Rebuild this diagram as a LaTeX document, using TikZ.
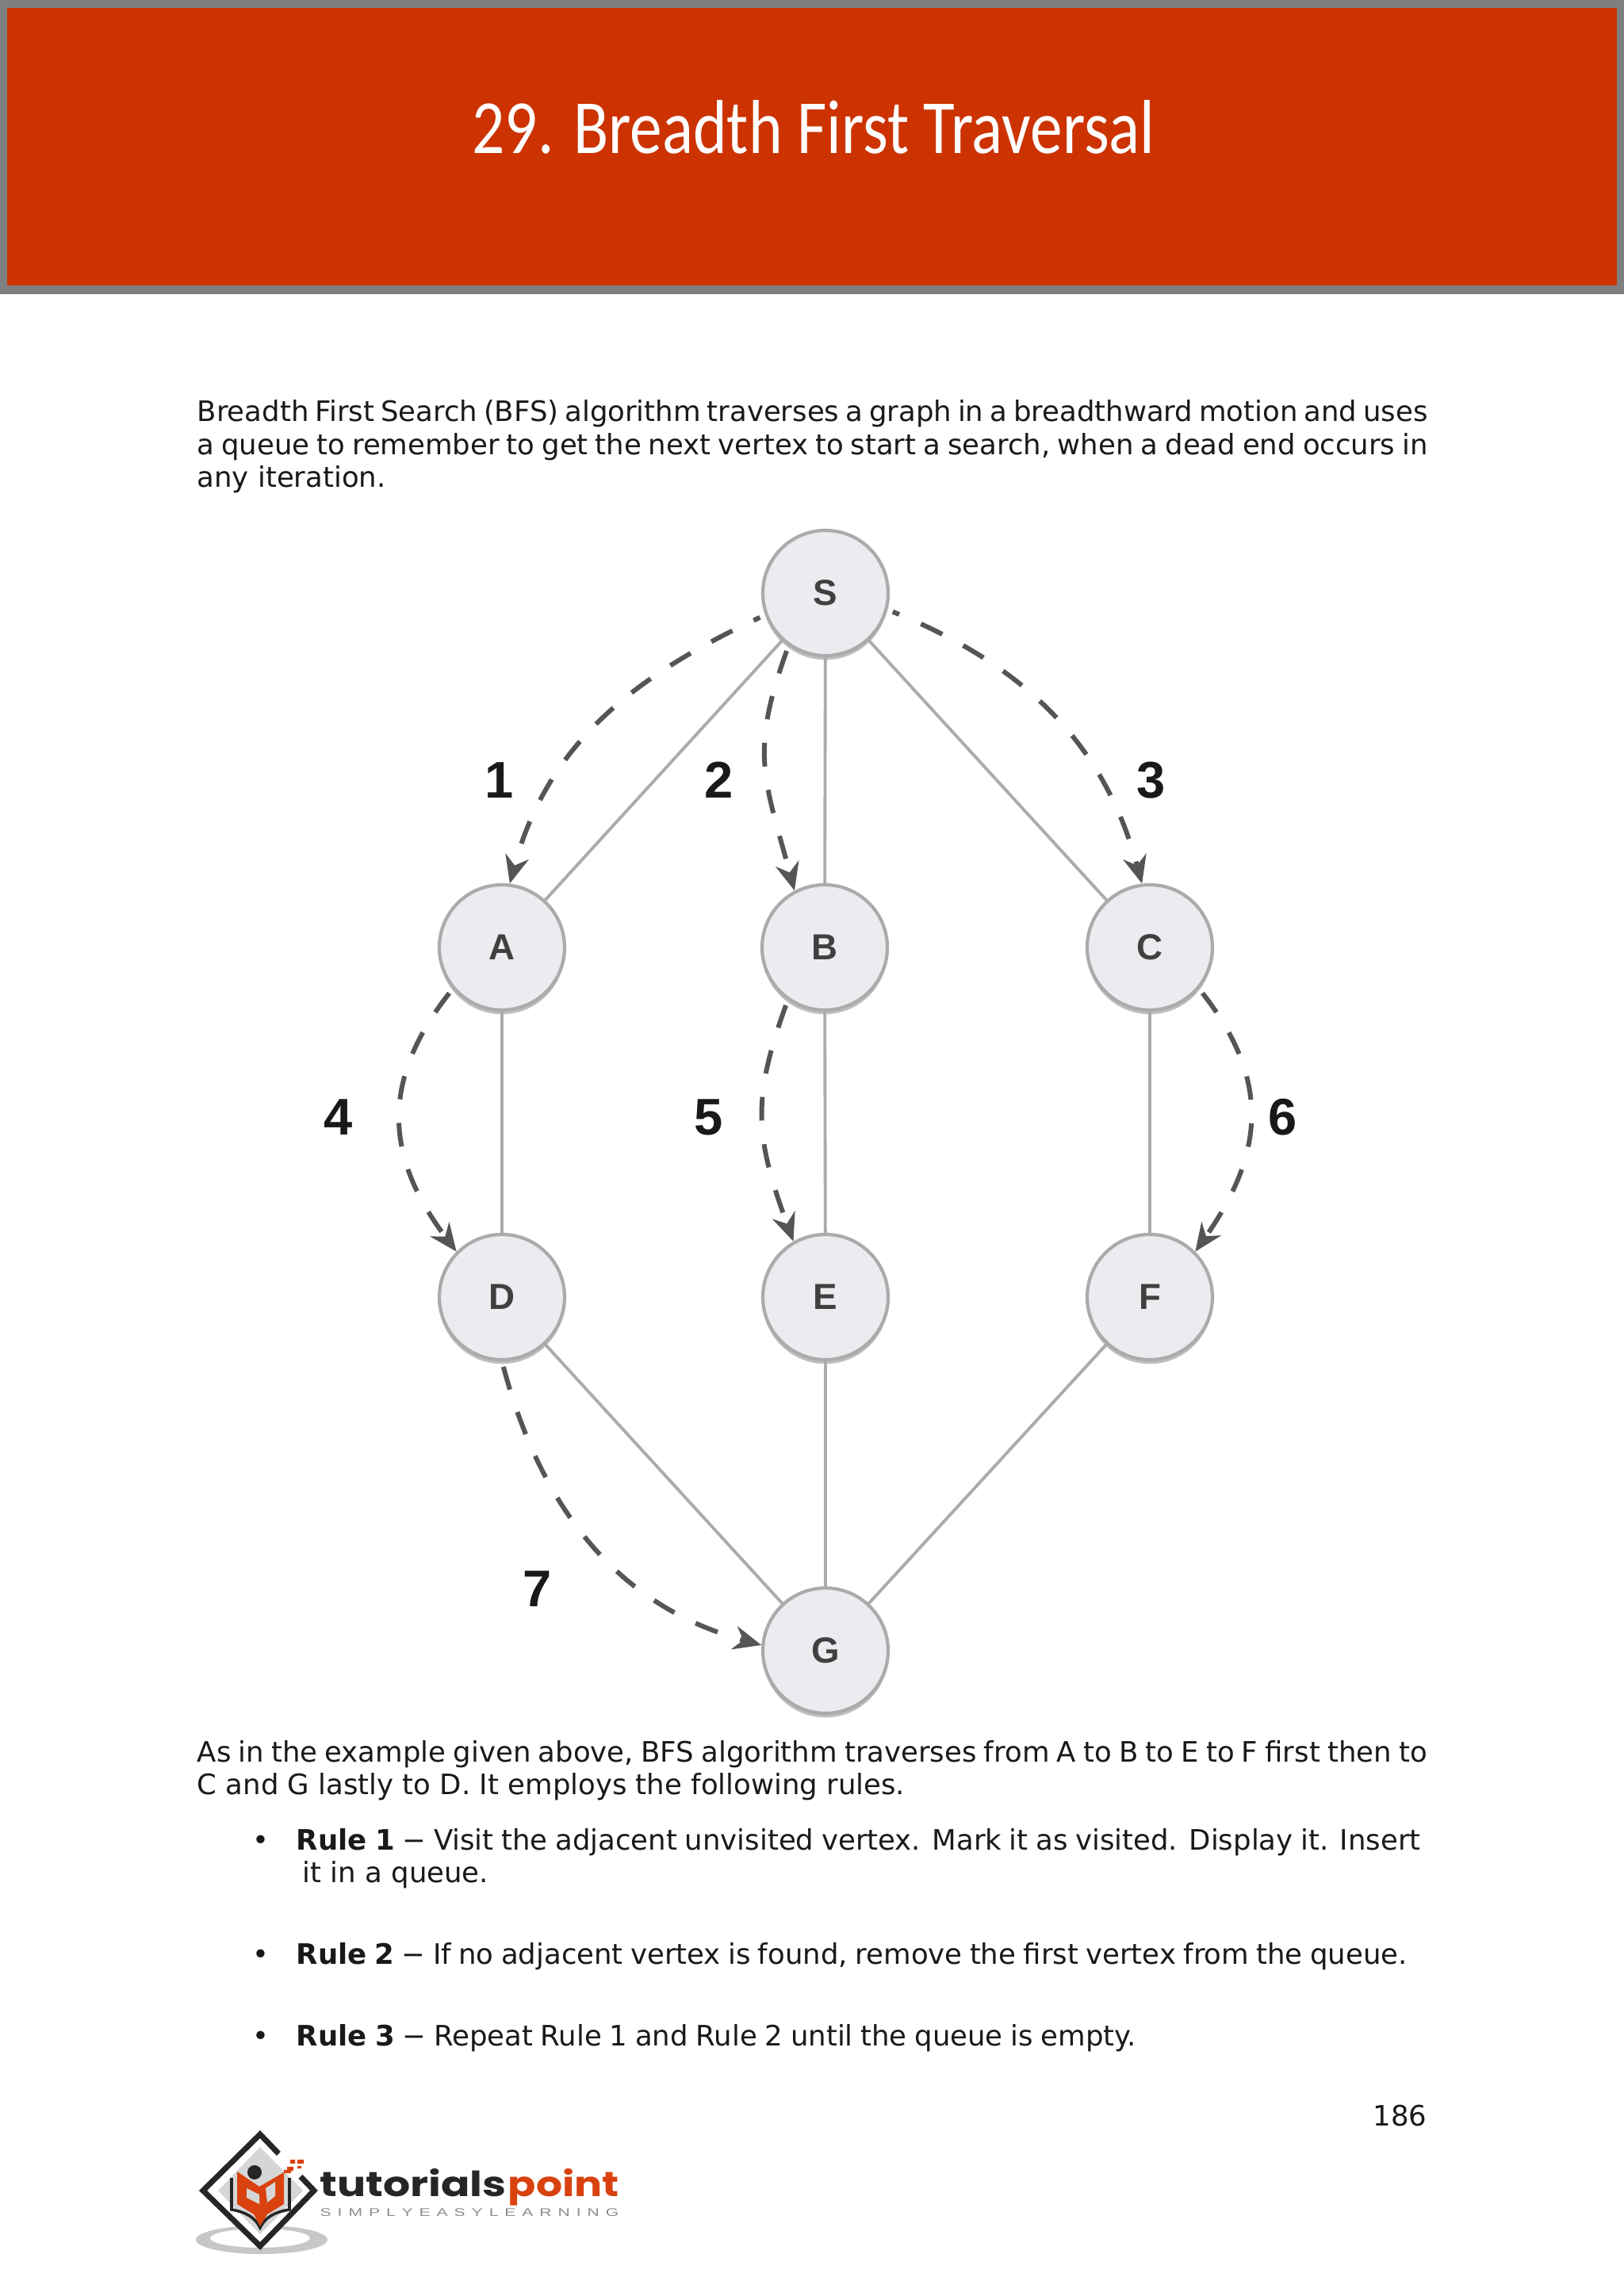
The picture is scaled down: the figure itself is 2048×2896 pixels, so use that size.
\documentclass[tikz,border=0pt]{standalone}
\usepackage{fontspec}
\usepackage[dvipsnames]{xcolor}
\usetikzlibrary{arrows.meta,shadows}
\setmainfont{DejaVu Sans}
\newfontfamily\titlefont{Carlito}
\newfontfamily\graphfont{Liberation Sans}
\newfontfamily\logofont{Poppins}
\definecolor{headred}{HTML}{CC3300}
\definecolor{headgray}{HTML}{7F7F7F}
\definecolor{edgegray}{HTML}{ABABAB}
\definecolor{traversegray}{HTML}{555555}
\definecolor{vertexfill}{HTML}{ECECF0}
\definecolor{logored}{HTML}{D9420F}
\newlength{\pxunit}
\setlength{\pxunit}{0.01cm}
\newcommand{\fitline}[2]{\makebox[#1\pxunit][s]{#2}}

\begin{document}
\begin{tikzpicture}[x=0.01cm,y=0.01cm,
    bodytext/.style={anchor=base west,inner sep=0pt,font=\fontsize{10.1pt}{12pt}\selectfont,text=black!90},
    vertex/.style={circle,draw=edgegray,line width=1.2pt,fill=vertexfill,minimum size=158\pxunit,inner sep=0pt,
      font=\graphfont\bfseries\fontsize{13pt}{14pt}\selectfont,text=black!75,
      drop shadow={shadow xshift=0pt,shadow yshift=-1.5pt,fill=black,opacity=0.25}},
    edgeline/.style={draw=edgegray,line width=1.1pt},
    traverse/.style={draw=traversegray,line width=1.7pt,dash pattern=on 8.5pt off 8.5pt,
      -{Stealth[length=10pt,width=8.5pt]},shorten <=2pt},
    steplabel/.style={font=\graphfont\bfseries\fontsize{18.5pt}{20pt}\selectfont,text=black!90,inner sep=0pt}]
  \useasboundingbox (0,0) rectangle (2048,-2896);
  \fill[white] (0,0) rectangle (2048,-2896);
  % header band
  \fill[headgray] (0,0) rectangle (2048,-371);
  \fill[headred] (9,-10) rectangle (2039,-360);
  \node[text=white,inner sep=0pt,font=\titlefont\fontsize{35.2pt}{38pt}\selectfont] (title) at (1026,-160) {\scalebox{0.657}[0.78]{29. Breadth First Traversal}};
  % first paragraph
  \node[bodytext] (introa) at (248,-531) {\fitline{1552}{Breadth First Search (BFS) algorithm traverses a graph in a breadthward motion and uses}};
  \node[bodytext] (introb) at (248,-573) {\fitline{1552}{a queue to remember to get the next vertex to start a search, when a dead end occurs in}};
  \node[bodytext] (introc) at (248,-614) {any iteration.};
  % graph
  \node[vertex] (S) at (1041,-748) {S};
  \node[vertex] (A) at (633,-1195) {A};
  \node[vertex] (B) at (1040,-1195) {B};
  \node[vertex] (C) at (1450,-1195) {C};
  \node[vertex] (D) at (633,-1636) {D};
  \node[vertex] (E) at (1041,-1636) {E};
  \node[vertex] (F) at (1450,-1636) {F};
  \node[vertex] (G) at (1041,-2082) {G};
  \foreach \a/\b in {S/A,S/B,S/C,A/D,B/E,C/F,D/G,E/G,F/G}
    \draw[edgeline] (\a) -- (\b);
  \draw[traverse,dash phase=6pt] (S.200) to[out=205,in=75] (A.83);
  \draw[traverse] (S.235) to[out=250,in=105,looseness=1.2] (B.118);
  \draw[traverse,dash phase=6pt] (S.-15) to[out=-22,in=105] (C.97);
  \draw[traverse] (A.220) to[out=232,in=127,looseness=1.15] (D.135);
  \draw[traverse] (B.235) to[out=250,in=110,looseness=1.15] (E.120);
  \draw[traverse] (C.-40) to[out=-52,in=55,looseness=1.15] (F.45);
  \draw[traverse] (D.270) to[out=-75,in=165] (G.175);
  \node[steplabel] (one) at (630,-984) {1};
  \node[steplabel] (two) at (907,-984) {2};
  \node[steplabel] (three) at (1452,-984) {3};
  \node[steplabel] (four) at (427,-1409) {4};
  \node[steplabel] (five) at (894,-1409) {5};
  \node[steplabel] (six) at (1618,-1409) {6};
  \node[steplabel] (seven) at (678,-2004) {7};
  % second paragraph and rules
  \node[bodytext] (morea) at (248,-2222) {\fitline{1551}{As in the example given above, BFS algorithm traverses from A to B to E to F first then to}};
  \node[bodytext] (moreb) at (248,-2263) {C and G lastly to D. It employs the following rules.};
  \node[bodytext] (bulleta) at (318,-2333) {•};
  \node[bodytext] (rulea) at (373,-2333) {\fitline{1418}{\textbf{Rule 1} − Visit the adjacent unvisited vertex. Mark it as visited. Display it. Insert}};
  \node[bodytext] (ruleb) at (381,-2374) {it in a queue.};
  \node[bodytext] (bulletb) at (318,-2477) {•};
  \node[bodytext] (rulec) at (373,-2477) {\fitline{1401}{\textbf{Rule 2} − If no adjacent vertex is found, remove the first vertex from the queue.}};
  \node[bodytext] (bulletc) at (318,-2580) {•};
  \node[bodytext] (ruled) at (373,-2580) {\fitline{1059}{\textbf{Rule 3} − Repeat Rule 1 and Rule 2 until the queue is empty.}};
  \node[bodytext,anchor=base east] (pagenum) at (1800,-2681) {186};
  % logo
  \fill[black!22,even odd rule] (330,-2825) ellipse (83 and 18) (328,-2823) ellipse (63 and 12);
  \draw[black!85,line width=2pt,fill=white,line join=miter] (328,-2692) -- (396,-2763) -- (328,-2833) -- (256,-2763) -- cycle;
  \fill[black!16] (328,-2708) -- (382,-2763) -- (328,-2818) -- (275,-2763) -- cycle;
  \fill[white] (356,-2712) -- (384,-2740) -- (374,-2750) -- (346,-2722) -- cycle;
  \fill[black!85] (321,-2740) circle (9);
  \draw[black!85,line width=1pt] (292,-2747) -- (292,-2787) .. controls (310,-2790) and (322,-2797) .. (328,-2810) .. controls (334,-2797) and (346,-2790) .. (365,-2787) -- (365,-2747);
  \fill[logored] (299,-2739) -- (327,-2758) -- (358,-2740) -- (358,-2780) -- (337,-2793) -- (328,-2808) -- (320,-2793) -- (299,-2780) -- cycle;
  \fill[black!16] (311,-2760) -- (327,-2768) -- (327,-2780) -- (311,-2772) -- cycle;
  \fill[black!16] (335,-2760) -- (347,-2752) -- (347,-2770) -- (337,-2778) -- cycle;
  \fill[logored] (366,-2724) rectangle (372,-2729) (375,-2724) rectangle (383,-2729) (362,-2733) rectangle (370,-2738) (375,-2732) rectangle (380,-2735) (358,-2737) rectangle (367,-2741);
  \node[anchor=base west,inner sep=0pt,text=black!85] (logoa) at (403,-2770) {\resizebox{235\pxunit}{35\pxunit}{\logofont\bfseries tutorials}};
  \node[anchor=base west,inner sep=0pt,text=logored] (logob) at (640,-2770) {\resizebox{140\pxunit}{35\pxunit}{\logofont\bfseries point}};
  \node[anchor=base west,inner sep=0pt,text=black!45,font=\graphfont\fontsize{4pt}{5pt}\selectfont] (logoc) at (403,-2795) {\scalebox{1.5}[1]{\fitline{251}{S I M P L Y E A S Y L E A R N I N G}}};
\end{tikzpicture}
\end{document}
